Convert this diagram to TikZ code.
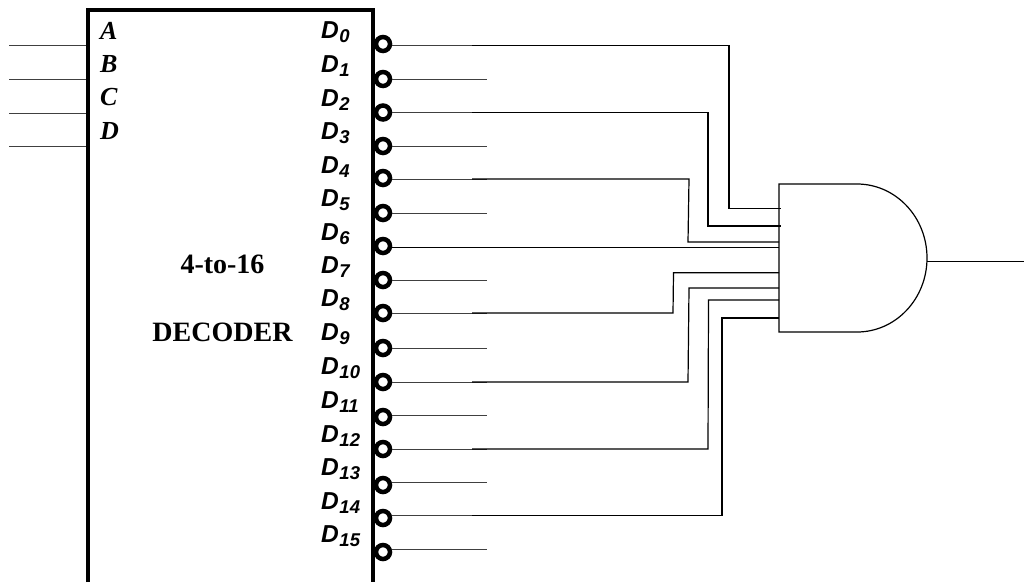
\documentclass[tikz,border=0pt]{standalone}
\usepackage{fontspec}
\setmainfont{Liberation Serif}
\newfontfamily\dsans{Liberation Sans}
\tikzset{
  wire/.style={line width=1.2pt,black,line cap=butt,line join=miter},
  stub/.style={line width=1pt,black!75},
  bubble/.style={circle,draw=black,line width=4.5pt,fill=white,minimum size=14pt,inner sep=0pt},
  inlabel/.style={anchor=base west,inner sep=0pt,font=\fontsize{26}{28}\selectfont\bfseries\itshape},
  outlabel/.style={anchor=base west,inner sep=0pt,font=\dsans\fontsize{24.5}{28}\selectfont\bfseries\itshape},
  title/.style={inner sep=0pt,font=\fontsize{28}{30}\selectfont\bfseries},
}
\newcommand{\Dn}[1]{D\kern0.6pt\raisebox{-4pt}{\fontsize{18.5}{20}\selectfont #1}}
\begin{document}
\begin{tikzpicture}[x=1pt,y=-1pt]
\useasboundingbox (0,0) rectangle (1024,582);
% decoder body
\draw[line width=4pt,black] (87.5,582) -- (87.5,10) -- (373,10) -- (373,582);
% inputs
\foreach \n/\y/\l/\ty in {a/45.7/A/39.3,b/79/B/72,c/113/C/105.5,d/146/D/139}{
  \coordinate (in\n) at (9,\y);
  \coordinate (pin\n) at (86,\y);
  \draw[stub] (in\n) -- (pin\n);
  \node[inlabel] (lab\n) at (100,\ty) {\l};
}
% outputs
\foreach \i/\by/\ly/\ty in {0/44/45.7/38.7,1/79/79/72,2/112.5/112.7/106,3/146/146/139,4/178/179/173,5/213/213/206.5,6/246/247/240,7/280/280/273,8/313/313/306,9/348/348/340,10/382/382/374,11/417/415.5/408,12/449/449/442,13/485/482/475,14/518/515.5/509,15/552/549/542}{
  \node[bubble] (b\i) at (383,\by) {};
  \coordinate (s\i) at (487,\ly);
  \coordinate (j\i) at (472,\ly);
  \node[outlabel] (lab\i) at (321,\ty) {\Dn{\i}};
}
\foreach \i/\ly in {0/45.7,1/79,2/112.7,3/146,4/179,5/213,7/280,8/313,9/348,10/382,11/415.5,12/449,13/482,14/515.5,15/549}{
  \coordinate (p\i) at (b\i.east |- s\i);
  \draw[stub] (p\i) -- (s\i);
}
% gate
\coordinate (gt) at (779,184);
\coordinate (gb) at (779,332);
\draw[line width=1.2pt,line join=miter] (gt) -- (857,184) .. controls (895.7,184) and (927,217.1) .. (927,258) .. controls (927,298.9) and (895.7,332) .. (857,332) -- (gb) -- cycle;
\coordinate (gout) at (927,261.7);
\coordinate (oend) at (1024,261.7);
\draw[wire] (gout) -- (oend);
% wires into gate
\coordinate (i0) at (781,208.7);
\coordinate (i2) at (781,226);
\coordinate (i4) at (779,242);
\coordinate (i6) at (779,247.5);
\coordinate (i8) at (779,272.7);
\coordinate (i10) at (779,288);
\coordinate (i12) at (779,300);
\coordinate (i14) at (779,318);
\draw[wire] (j0) -- (729,45.7) -- (729,208.7) -- (i0);
\draw[wire] (j2) -- (708,112.7) -- (708,226) -- (i2);
\draw[wire] (j4) -- (689,179) -- (688,242) -- (i4);
\draw[wire] (b6.east |- i6) -- (i6);
\draw[wire] (j8) -- (673,313) -- (673.5,272.7) -- (i8);
\draw[wire] (j10) -- (688,382) -- (689,288) -- (i10);
\draw[wire] (j12) -- (708,449) -- (708.5,300) -- (i12);
\draw[wire] (j14) -- (722,515.5) -- (722,318) -- (i14);
% titles
\node[title] (t1) at (222.5,264) {4-to-16};
\node[title] (t2) at (222.5,332) {DECODER};
\end{tikzpicture}
\end{document}
